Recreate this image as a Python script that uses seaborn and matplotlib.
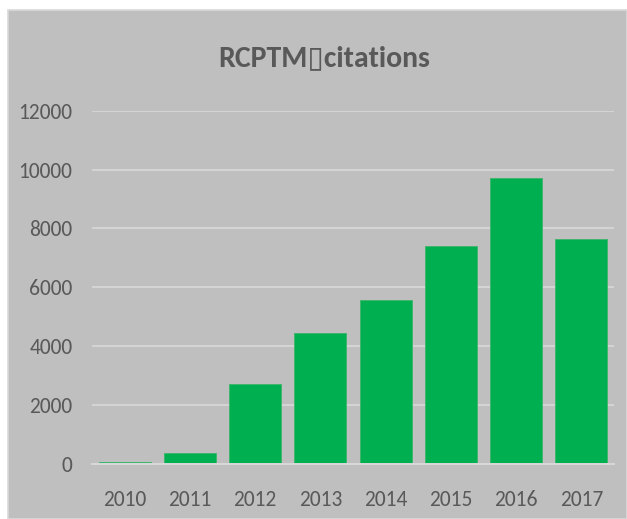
import matplotlib
matplotlib.use("Agg")
import matplotlib.pyplot as plt
import seaborn as sns
import pandas as pd
from matplotlib.patches import Rectangle

# data
years = ["2010", "2011", "2012", "2013", "2014", "2015", "2016", "2017"]
citations = [60, 370, 2690, 4440, 5560, 7410, 9720, 7650]
y_ticks = [0, 2000, 4000, 6000, 8000, 10000, 12000]

df = pd.DataFrame({"year": years, "citations": citations})

sns.set_style("white")
plt.rcParams["font.family"] = ["Carlito", "DejaVu Sans"]

W, H = 627, 519
fig = plt.figure(figsize=(W / 100, H / 100), dpi=100)
fig.patch.set_facecolor("white")

# gray chart area behind everything
fig.patches.append(Rectangle((8 / W, 0), 1 - 8 / W, 1 - 10 / H,
                             transform=fig.transFigure, facecolor="#bfbfbf",
                             edgecolor="#d9d9d9", linewidth=1.2, zorder=-5))

ax = fig.add_axes([92 / W, 55.5 / H, 522 / W, 352.8 / H])
ax.set_facecolor("none")

sns.barplot(data=df, x="year", y="citations", color="#00b050", saturation=1,
            width=0.8, edgecolor="#3cb46a", linewidth=0.6, ax=ax, zorder=3)

ax.set_ylim(0, 12000)
ax.set_xlim(-0.5, len(years) - 0.5)
ax.set_yticks(y_ticks)
ax.yaxis.grid(True, color="#d9d9d9", linewidth=1.2)
ax.set_axisbelow(True)
for s in ["top", "right", "left"]:
    ax.spines[s].set_visible(False)
ax.spines["bottom"].set_color("#d9d9d9")
ax.spines["bottom"].set_linewidth(1.4)
ax.spines["bottom"].set_zorder(4)

ax.tick_params(axis="both", length=0, labelsize=15.5, labelcolor="#595959")
ax.tick_params(axis="y", pad=14)
ax.tick_params(axis="x", pad=19)
ax.set_xlabel("")
ax.set_ylabel("")

fig.text(324 / W, 1 - 58 / H, "RCPTM\u25afcitations", ha="center", va="center",
         fontsize=21.5, fontweight="bold", color="#595959",
         family=["Carlito", "DejaVu Sans"])

fig.savefig("out.png", dpi=100)
